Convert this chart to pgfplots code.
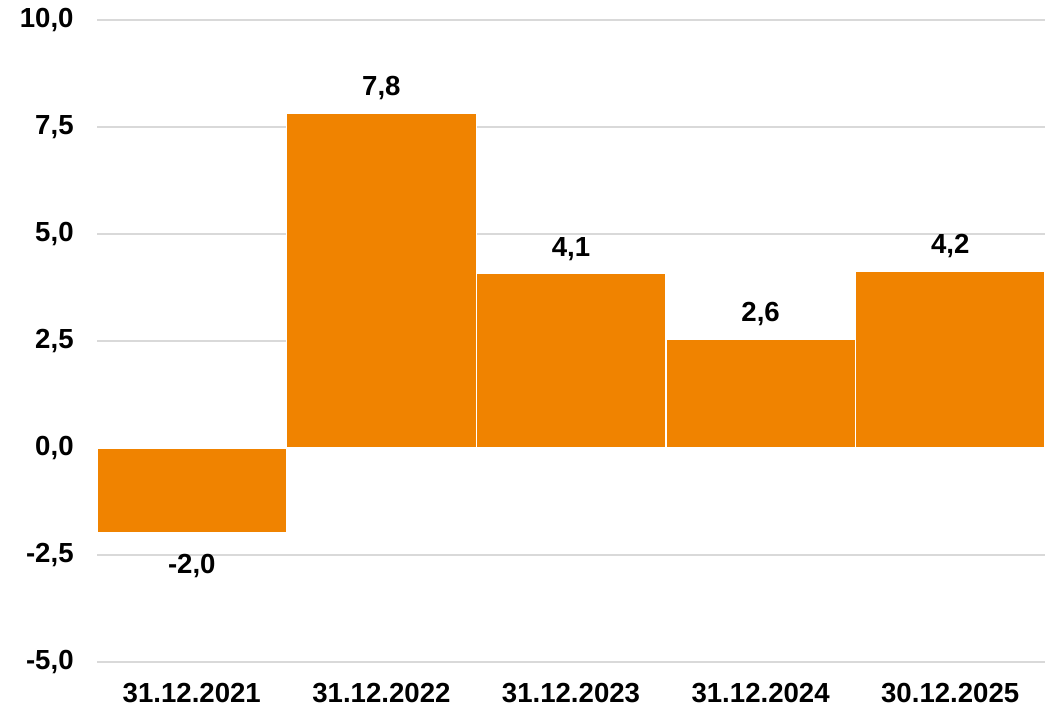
\documentclass[border=0pt]{standalone}
\usepackage{pgfplots}
\pgfplotsset{compat=1.18}
\usepackage{fontspec}
\setmainfont{Liberation Sans}
\definecolor{barorange}{HTML}{F08300}
\definecolor{gridgray}{HTML}{D9D9D9}
\begin{document}
\begin{tikzpicture}
\begin{axis}[
    scale only axis,
    width=474pt, height=321pt,
    ybar, bar width=94.8pt,
    xmin=-0.5, xmax=4.5,
    ymin=-5, ymax=10,
    ytick={-5,-2.5,0,2.5,5,7.5,10},
    xtick=data,
    xticklabels={31.12.2021,31.12.2022,31.12.2023,31.12.2024,30.12.2025},
    ymajorgrids,
    grid style={gridgray, line width=0.8pt},
    axis line style={draw=none},
    major tick style={draw=none},
    font=\fontsize{13.8pt}{16pt}\selectfont\bfseries,
    /pgf/number format/assume math mode=true,
    /pgf/number format/use comma,
    /pgf/number format/fixed,
    /pgf/number format/fixed zerofill,
    /pgf/number format/precision=1,
    yticklabel style={inner sep=0pt, xshift=-11.5pt},
    xticklabel style={inner sep=0pt, yshift=-6pt},
    point meta=explicit,
    nodes near coords,
    every node near coord/.append style={inner xsep=0pt, inner ysep=8pt, yshift=-2pt, font=\fontsize{13.8pt}{16pt}\selectfont\bfseries},
    clip=false,
]
\addplot[fill=barorange, draw=white, line width=0.7pt] coordinates {
    (0,-1.99) [-2.0] (1,7.83) [7.8] (2,4.07) [4.1] (3,2.55) [2.6] (4,4.14) [4.2]
};
\end{axis}
\path ([xshift=-48.5pt,yshift=-25pt]current axis.south west) rectangle ([xshift=4pt,yshift=10pt]current axis.north east);
\end{tikzpicture}
\end{document}
